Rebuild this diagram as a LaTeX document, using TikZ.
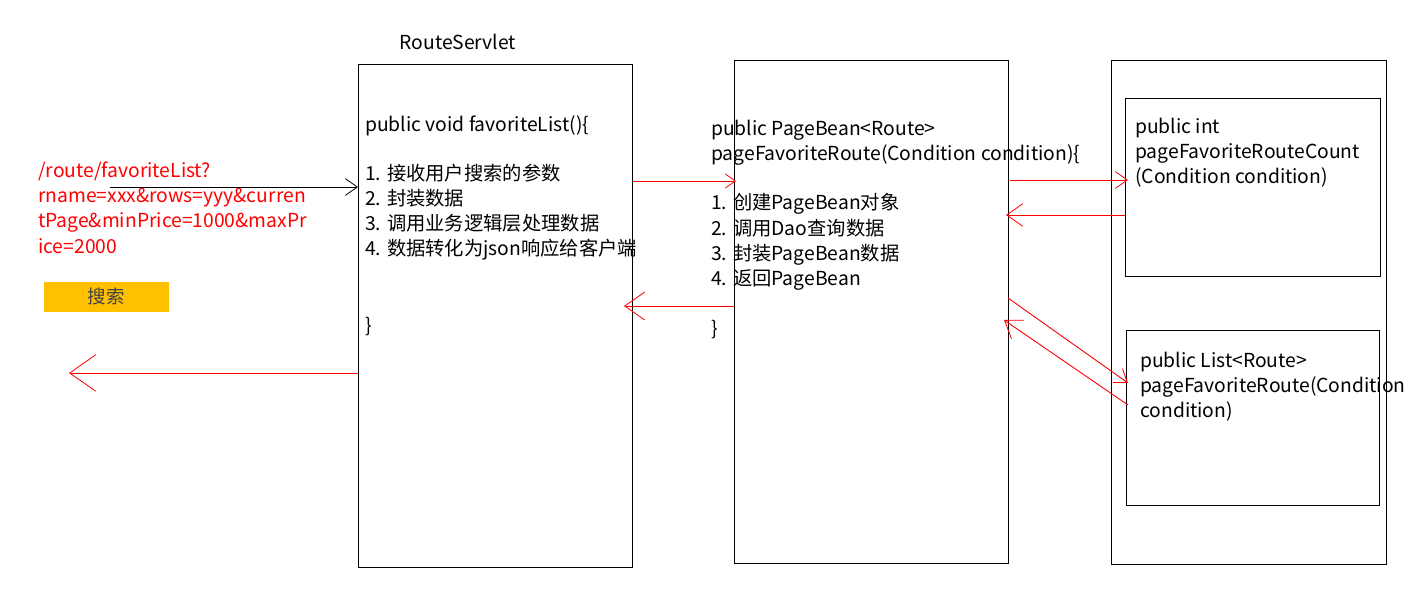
\documentclass[tikz,border=0pt]{standalone}
\usepackage{fontspec}
\setmainfont{Noto Sans CJK SC}
\usetikzlibrary{arrows.meta}
\begin{document}
\begin{tikzpicture}[x=1pt,y=-1pt,
  box/.style={draw,line width=1pt,inner sep=0pt,anchor=north west},
  txt/.style={anchor=base west,inner sep=0pt,font=\fontsize{19.3}{25}\selectfont},
  rtxt/.style={txt,text=red},
  bar/.style={-{Straight Barb[length=#1,width=#1*1.4,line width=0.8pt]}},
  redarr/.style={draw=red,line width=0.9pt,bar=#1},
  blkarr/.style={draw=black,line width=0.9pt,bar=#1}]
\useasboundingbox (0,0) rectangle (1421,596);
% boxes
\node[box,minimum width=274pt,minimum height=503pt] (servlet) at (358,64) {};
\node[box,minimum width=274pt,minimum height=503pt] (service) at (734,60) {};
\node[box,minimum width=275pt,minimum height=504pt] (dao) at (1111,60) {};
\node[box,minimum width=255pt,minimum height=178pt] (daoA) at (1125,98) {};
\node[box,minimum width=253pt,minimum height=175pt] (daoB) at (1126,330) {};
% title
\node[txt,anchor=base] (title) at (458,50) {RouteServlet};
% servlet text
\node[txt] (s0) at (365,132) {public void favoriteList()\{};
\node[txt] (s1) at (365,181) {1. 接收用户搜索的参数};
\node[txt] (s2) at (365,205) {2. 封装数据};
\node[txt] (s3) at (365,230) {3. 调用业务逻辑层处理数据};
\node[txt] (s4) at (365,255) {4. 数据转化为json响应给客户端};
\node[txt] (s5) at (365,332) {\}};
% service text
\node[txt] (v0) at (711,136) {public PageBean<Route>};
\node[txt] (v1) at (711,161) {pageFavoriteRoute(Condition condition)\{};
\node[txt] (v2) at (711,210) {1. 创建PageBean对象};
\node[txt] (v3) at (711,235) {2. 调用Dao查询数据};
\node[txt] (v4) at (711,260) {3. 封装PageBean数据};
\node[txt] (v5) at (711,285) {4. 返回PageBean};
\node[txt] (v6) at (711,335) {\}};
% dao text
\node[txt] (a0) at (1135,134) {public int};
\node[txt] (a1) at (1135,159) {pageFavoriteRouteCount};
\node[txt] (a2) at (1135,184) {(Condition condition)};
\node[txt] (b0) at (1140,367) {public List<Route>};
\node[txt] (b1) at (1140,392) {pageFavoriteRoute(Condition};
\node[txt] (b2) at (1140,417) {condition)};
% request text
\node[rtxt] (r0) at (38,178) {/route/favoriteList?};
\node[rtxt] (r1) at (38,203) {rname=xxx\&rows=yyy\&curren};
\node[rtxt] (r2) at (38,228) {tPage\&minPrice=1000\&maxPr};
\node[rtxt] (r3) at (38,253) {ice=2000};
% search button
\node[box,fill={rgb,255:red,255;green,192;blue,0},draw=none,minimum width=125pt,minimum height=30pt,
  font=\fontsize{18.5}{20}\selectfont,text={rgb,255:red,64;green,64;blue,64}] (search) at (43,281) {搜索};
% connector end points
\coordinate (c1s) at (110,187);
\coordinate (c1e) at (servlet.west |- 0,187);
\coordinate (c2s) at (servlet.west |- 0,373);
\coordinate (c2e) at (69,373);
\coordinate (c3s) at (servlet.east |- 0,181);
\coordinate (c3e) at (736,181);
\coordinate (c4s) at (service.west |- 0,306);
\coordinate (c4e) at (624,306);
\coordinate (c5s) at (1010,180);
\coordinate (c5e) at (1128,180);
\coordinate (c6s) at (daoA.west |- 0,215);
\coordinate (c6e) at (1006,215);
\coordinate (c7s) at (1008,298);
\coordinate (c7e) at (1128,383);
\coordinate (c8s) at (1128,405);
\coordinate (c8e) at (1004,320);
% connectors
\draw[blkarr=12pt] (c1s) -- (c1e);
\draw[redarr=26pt] (c2s) -- (c2e);
\draw[redarr=10pt] (c3s) -- (c3e);
\draw[redarr=20pt] (c4s) -- (c4e);
\draw[redarr=12pt] (c5s) -- (c5e);
\draw[redarr=16pt] (c6s) -- (c6e);
\draw[redarr=12pt] (c7s) -- (c7e);
\draw[redarr=16pt] (c8s) -- (c8e);
\end{tikzpicture}
\end{document}
